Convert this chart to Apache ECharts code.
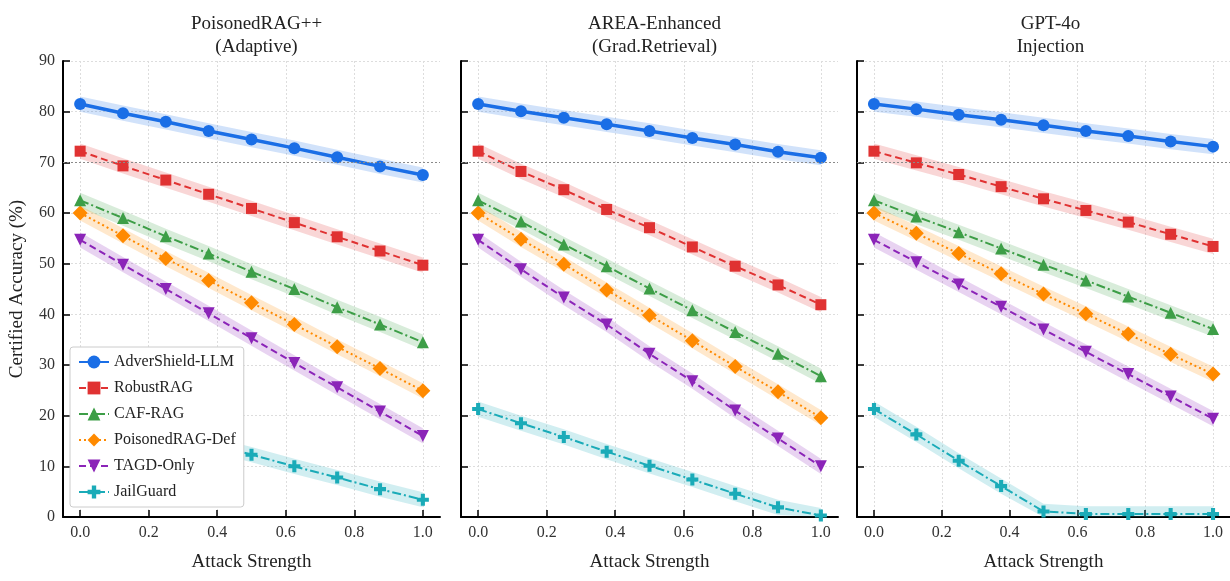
<!DOCTYPE html>
<html>
<head>
<meta charset="utf-8">
<script src="https://cdn.jsdelivr.net/npm/echarts@6/dist/echarts.min.js"></script>
<style>
html, body { margin: 0; padding: 0; background: #fff; }
#chart { width: 1230px; height: 581px; }
</style>
</head>
<body>
<div id="chart"></div>
<script>
// attack strength sampled at 9 points
const xs = [0, 0.125, 0.25, 0.375, 0.5, 0.625, 0.75, 0.875, 1.0];
const xTicks = [0, 0.2, 0.4, 0.6, 0.8, 1.0];
const methods = ['AdverShield-LLM', 'RobustRAG', 'CAF-RAG', 'PoisonedRAG-Def', 'TAGD-Only', 'JailGuard'];
const panelTitles = ['PoisonedRAG++\n(Adaptive)', 'AREA-Enhanced\n(Grad.Retrieval)', 'GPT-4o\nInjection'];

// one row per method, same order as `methods`
const adaptiveVals = [
  [81.5, 79.7, 78.0, 76.2, 74.5, 72.8, 71.0, 69.2, 67.5],
  [72.2, 69.3, 66.5, 63.7, 60.9, 58.1, 55.3, 52.5, 49.7],
  [62.5, 59.0, 55.4, 52.0, 48.4, 45.0, 41.4, 38.0, 34.5],
  [60.0, 55.5, 51.0, 46.7, 42.3, 38.0, 33.6, 29.3, 24.9],
  [54.7, 49.8, 45.0, 40.2, 35.3, 30.4, 25.6, 20.8, 16.0],
  [21.3, 19.0, 16.8, 14.5, 12.3, 10.0, 7.8, 5.5, 3.4]
];
const gradVals = [
  [81.5, 80.1, 78.8, 77.5, 76.2, 74.8, 73.5, 72.1, 70.9],
  [72.2, 68.2, 64.6, 60.7, 57.1, 53.3, 49.5, 45.8, 41.9],
  [62.5, 58.3, 53.8, 49.5, 45.1, 40.8, 36.5, 32.2, 27.8],
  [60.0, 54.8, 49.9, 44.8, 39.8, 34.8, 29.7, 24.7, 19.6],
  [54.7, 48.9, 43.3, 38.0, 32.2, 26.8, 21.0, 15.5, 10.0],
  [21.3, 18.5, 15.8, 12.9, 10.1, 7.4, 4.6, 1.9, 0.3]
];
const injectionVals = [
  [81.5, 80.5, 79.4, 78.4, 77.3, 76.2, 75.2, 74.1, 73.1],
  [72.2, 69.9, 67.6, 65.2, 62.8, 60.5, 58.2, 55.8, 53.4],
  [62.5, 59.3, 56.2, 53.0, 49.8, 46.7, 43.5, 40.3, 37.1],
  [60.0, 56.0, 52.0, 48.0, 44.0, 40.1, 36.1, 32.1, 28.2],
  [54.7, 50.3, 45.9, 41.5, 37.0, 32.6, 28.2, 23.8, 19.4],
  [21.3, 16.3, 11.1, 6.1, 1.1, 0.6, 0.6, 0.6, 0.6]
];
const bandHalf = 1.5;

const FONT = '"Liberation Serif", "Times New Roman", serif';
const colors = ['#1a6ee6', '#e03232', '#3d9e47', '#ff8a00', '#8b24b8', '#1aabb8'];
const symbols = [
  'circle', 'rect', 'triangle', 'diamond',
  'path://M0,0 L10,0 L5,9 Z',
  'path://M3.3,0 H6.7 V3.3 H10 V6.7 H6.7 V10 H3.3 V6.7 H0 V3.3 H3.3 Z'
];
const symbolSizes = [12, 11, 12, 15, 12, 12];
const lineWidths = [3.5, 2, 2, 2, 2, 2];
const lineTypes = ['solid', [7, 4], [9, 3, 2, 3], [2, 3], [7, 4], [9, 3, 2, 3]];

const panelLeft = [63, 461, 857];
const gridW = 377;

const chart = echarts.init(document.getElementById('chart'));

const series = [];
[adaptiveVals, gradVals, injectionVals].forEach((vals, p) => {
  vals.forEach((ys, k) => {
    // shaded band around each curve
    series.push({
      type: 'custom',
      xAxisIndex: p,
      yAxisIndex: p,
      clip: true,
      silent: true,
      z: 1,
      data: xs.map((x, i) => [x, ys[i]]),
      encode: { x: 0, y: 1 },
      renderItem: (params, api) => {
        if (params.dataIndex !== 0) return null;
        const upper = xs.map((x, i) => api.coord([x, ys[i] + bandHalf]));
        const lower = xs.map((x, i) => api.coord([x, Math.max(0, ys[i] - bandHalf)])).reverse();
        return {
          type: 'polygon',
          shape: { points: upper.concat(lower) },
          style: { fill: colors[k], opacity: 0.2 }
        };
      }
    });
    const s = {
      type: 'line',
      name: methods[k],
      xAxisIndex: p,
      yAxisIndex: p,
      data: xs.map((x, i) => [x, ys[i]]),
      symbol: symbols[k],
      symbolSize: symbolSizes[k],
      showAllSymbol: true,
      itemStyle: { color: colors[k] },
      lineStyle: { color: colors[k], width: lineWidths[k], type: lineTypes[k] },
      z: 3 + (5 - k) * 0.01
    };
    if (k === 0) {
      s.markLine = {
        silent: true,
        symbol: 'none',
        label: { show: false },
        lineStyle: { color: '#8a8a8a', width: 1, type: [2, 2] },
        data: [{ yAxis: 70 }]
      };
    }
    series.push(s);
  });
});

chart.setOption({
  animation: false,
  title: panelTitles.map((t, i) => ({
    text: t,
    left: panelLeft[i] + gridW / 2,
    top: 8,
    textAlign: 'center',
    textStyle: { fontFamily: FONT, fontSize: 19, fontWeight: 'normal', color: '#222', lineHeight: 23 }
  })),
  legend: {
    data: methods,
    orient: 'vertical',
    left: 70,
    top: 347,
    padding: [7, 8],
    itemWidth: 30,
    itemHeight: 16,
    itemGap: 10,
    backgroundColor: '#fff',
    borderColor: '#cccccc',
    borderWidth: 1,
    borderRadius: 3,
    textStyle: { fontFamily: FONT, fontSize: 16, color: '#222' }
  },
  grid: panelLeft.map(l => ({ left: l, top: 61, width: gridW, height: 456 })),
  xAxis: panelLeft.map((l, i) => ({
    gridIndex: i,
    type: 'value',
    min: -0.05,
    max: 1.05,
    name: 'Attack Strength',
    nameLocation: 'middle',
    nameGap: 36,
    nameTextStyle: { fontFamily: FONT, fontSize: 19, color: '#222' },
    axisLine: { show: true, onZero: false, lineStyle: { color: '#000', width: 2 } },
    axisTick: { show: true, inside: true, length: 7, customValues: xTicks, lineStyle: { color: '#000', width: 1.5 } },
    axisLabel: { customValues: xTicks, formatter: v => v.toFixed(1), fontFamily: FONT, fontSize: 16, color: '#333', margin: 8 },
    splitLine: { show: true, lineStyle: { color: '#dddddd', width: 1, type: [2, 2] } }
  })),
  yAxis: panelLeft.map((l, i) => ({
    gridIndex: i,
    type: 'value',
    min: 0,
    max: 90,
    interval: 10,
    name: i === 0 ? 'Certified Accuracy (%)' : '',
    nameLocation: 'middle',
    nameGap: 36,
    nameTextStyle: { fontFamily: FONT, fontSize: 19, color: '#222' },
    axisLine: { show: true, onZero: false, lineStyle: { color: '#000', width: 2 } },
    axisTick: { show: true, inside: true, length: 7, lineStyle: { color: '#000', width: 1.5 } },
    axisLabel: { show: i === 0, fontFamily: FONT, fontSize: 16, color: '#333', margin: 8 },
    splitLine: { show: true, lineStyle: { color: '#dddddd', width: 1, type: [2, 2] } }
  })),
  series: series
});
</script>
</body>
</html>
